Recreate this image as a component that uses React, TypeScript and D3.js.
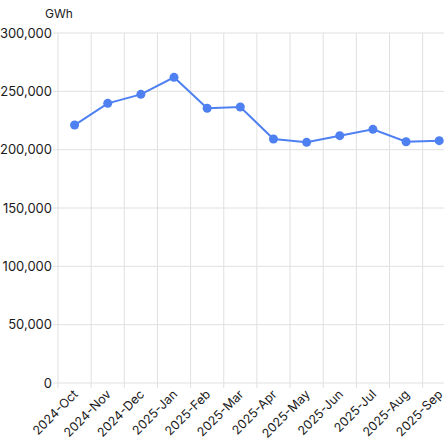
import React from "react";
import * as d3 from "d3";

const months = ["2024-Oct","2024-Nov","2024-Dec","2025-Jan","2025-Feb","2025-Mar","2025-Apr","2025-May","2025-Jun","2025-Jul","2025-Aug","2025-Sep"];
const values = [221100, 239700, 247400, 262000, 235500, 236600, 209100, 206300, 212000, 217400, 206800, 207700];
const yTicks = [0, 50000, 100000, 150000, 200000, 250000, 300000];
const unit = "GWh";

export default function App() {
  const W = 444, H = 441;
  const left = 58, top = 33, bottom = 383;
  const bandW = 33.15;
  const x = d3.scaleBand<string>().domain(months).range([left, left + bandW * months.length]).padding(0);
  const y = d3.scaleLinear().domain([0, 300000]).range([bottom, top]);
  const cx = (m: string) => (x(m) as number) + x.bandwidth() / 2;
  const line = d3.line<number>().x((_, i) => cx(months[i])).y((d) => y(d));
  const fmt = d3.format(",");
  const font = "Inter, 'Noto Sans', sans-serif";
  const grid = "#e0e0e0";
  return (
    <svg width={W} height={H} style={{ position: "absolute", left: 0, top: 0, overflow: "hidden" }} fontFamily={font}>
      {yTicks.map((t) => (
        <g key={t}>
          <line x1={left - 5} x2={W} y1={y(t)} y2={y(t)} stroke={grid} strokeWidth={1} />
          <text x={left - 6} y={y(t)} dy="0.35em" textAnchor="end" fontSize={13} fill="#1a1a1a">{fmt(t)}</text>
        </g>
      ))}
      {months.map((m) => (
        <line key={m} x1={x(m) as number} x2={x(m) as number} y1={top} y2={bottom + 5} stroke={grid} strokeWidth={1} />
      ))}
      <text x={45} y={18} fontSize={12} fill="#1a1a1a">{unit}</text>
      <path d={line(values) || ""} fill="none" stroke="#4f80f2" strokeWidth={2} />
      {values.map((v, i) => (
        <circle key={i} cx={cx(months[i])} cy={y(v)} r={4.5} fill="#4f80f2" />
      ))}
      {months.map((m) => (
        <text key={m} transform={`translate(${cx(m) + 1},${bottom + 9}) rotate(-45)`} textAnchor="end" dy="0.35em" fontSize={12.5} fill="#1a1a1a">{m}</text>
      ))}
    </svg>
  );
}
